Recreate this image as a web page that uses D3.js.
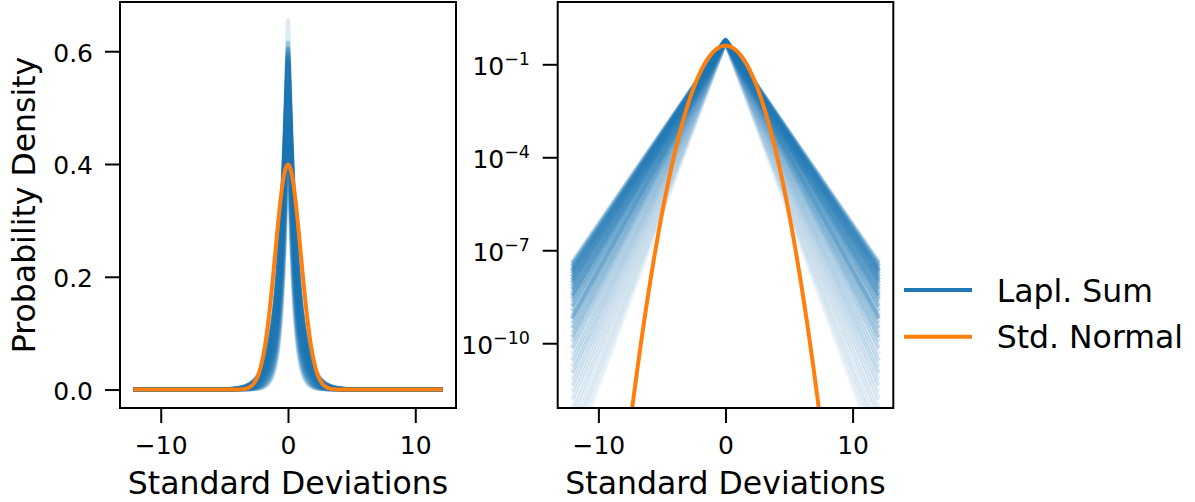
<!DOCTYPE html>
<html><head><meta charset="utf-8">
<script src="https://cdn.jsdelivr.net/npm/d3@7"></script>
<style>body{margin:0;background:#fff}svg{font-family:"DejaVu Sans",sans-serif}</style>
</head><body><svg id="c" width="1195" height="502"></svg>
<script>
// ---- data ----
const xTicks = [-10, 0, 10];
const linTicks = [0, 0.2, 0.4, 0.6];
const linTickLabels = ["0.0", "0.2", "0.4", "0.6"];
const logTickExps = [-1, -4, -7, -10];
const seriesNames = ["Lapl. Sum", "Std. Normal"];
const xRange = [-12, 12];
// one entry per blue curve: density at 0, log10 density at |x| = 12, line opacity
const peakDensity = [0.655,0.615,0.605,0.598,0.592,0.588,0.585,0.58,0.578,0.575,0.57,0.565,0.56,0.555,0.55,0.545,0.54,0.535,0.53,0.525,0.52,0.515,0.51,0.505,0.5,0.495,0.49,0.485,0.48,0.475,0.47,0.465,0.46,0.455,0.45,0.445,0.44,0.437,0.434,0.43];
const tailLog10 = [-7.9,-7.35,-7.45,-7.55,-7.62,-7.7,-7.8,-7.9,-8.0,-8.1,-8.2,-8.3,-8.4,-8.5,-8.6,-8.75,-8.9,-9.05,-9.15,-9.3,-9.45,-9.6,-9.75,-9.9,-10.1,-10.3,-10.5,-10.7,-10.9,-11.1,-11.3,-11.5,-11.75,-12.0,-12.25,-12.5,-12.8,-13.05,-13.3,-13.6];
const lineAlpha = [0.15,0.35,0.5,0.4,0.55,0.45,0.5,0.4,0.5,0.35,0.45,0.3,0.45,0.35,0.3,0.4,0.3,0.25,0.45,0.25,0.3,0.2,0.3,0.2,0.25,0.15,0.2,0.15,0.2,0.12,0.15,0.12,0.15,0.1,0.12,0.1,0.1,0.1,0.08,0.08];

// ---- build curves ----
const xs = d3.range(xRange[0], xRange[1] + 1e-9, 0.02);
const sRound = 0.05;
const hEdge = Math.sqrt(144 + sRound*sRound) - sRound;
const blueCurves = peakDensity.map((p, i) => {
  const r = (Math.log10(p) - tailLog10[i]) * Math.LN10 / hEdge;
  return xs.map(x => [x, p * Math.exp(-r * (Math.sqrt(x*x + sRound*sRound) - sRound))]);
});
const normalCurve = xs.map(x => [x, Math.exp(-x*x/2) / Math.sqrt(2*Math.PI)]);

const BLUE = "#1f77b4", ORANGE = "#ff7f0e";
const svg = d3.select("#c");
const yTop = 2, yBot = 408;
const panels = [
  {x0: 120, x1: 456, type: "lin"},
  {x0: 557.7, x1: 893.3, type: "log"}
];
const TICK = 15, FS = 25, LFS = 31.5;

panels.forEach((pn, k) => {
  const x = d3.scaleLinear().domain([-13.2, 13.2]).range([pn.x0, pn.x1]);
  const y = pn.type === "lin"
    ? d3.scaleLinear().domain([-0.0327, 0.6873]).range([yBot, yTop])
    : d3.scaleLog().domain([Math.pow(10, -12.09), Math.pow(10, 1.01)]).range([yBot, yTop]);
  const g = svg.append("g");
  const cid = "clip" + k;
  g.append("clipPath").attr("id", cid).append("rect")
    .attr("x", pn.x0).attr("y", yTop).attr("width", pn.x1 - pn.x0).attr("height", yBot - yTop);
  const line = d3.line().x(d => x(d[0])).y(d => y(d[1]));
  const plot = g.append("g").attr("clip-path", `url(#${cid})`);
  blueCurves.forEach((c, i) => {
    plot.append("path").attr("d", line(c)).attr("fill", "none")
      .attr("stroke", BLUE).attr("stroke-opacity", lineAlpha[i]).attr("stroke-width", 4)
      .attr("stroke-linejoin", "round").attr("stroke-linecap", "square");
  });
  plot.append("path").attr("d", line(normalCurve)).attr("fill", "none")
    .attr("stroke", ORANGE).attr("stroke-width", 4)
    .attr("stroke-linejoin", "round").attr("stroke-linecap", "square");

  g.append("rect").attr("x", pn.x0).attr("y", yTop).attr("width", pn.x1 - pn.x0).attr("height", yBot - yTop)
    .attr("fill", "none").attr("stroke", "#000").attr("stroke-width", 2);

  const xa = g.append("g").attr("transform", `translate(0,${yBot})`)
    .call(d3.axisBottom(x).tickValues(xTicks).tickSizeInner(TICK).tickSizeOuter(0).tickPadding(12)
      .tickFormat(d => d < 0 ? "\u2212" + Math.abs(d) : String(d)));
  xa.select(".domain").remove();
  xa.selectAll(".tick line").attr("stroke", "#000").attr("stroke-width", 2);
  xa.selectAll(".tick text").attr("font-size", FS).attr("font-family", "DejaVu Sans").attr("fill", "#000")
    .attr("dy", null).attr("y", 45.5);

  if (pn.type === "lin") {
    const ya = g.append("g").attr("transform", `translate(${pn.x0},0)`)
      .call(d3.axisLeft(y).tickValues(linTicks).tickSizeInner(TICK).tickSizeOuter(0).tickPadding(12)
        .tickFormat((d, i) => linTickLabels[i]));
    ya.select(".domain").remove();
    ya.selectAll(".tick line").attr("stroke", "#000").attr("stroke-width", 2);
    ya.selectAll(".tick text").attr("font-size", FS).attr("font-family", "DejaVu Sans").attr("fill", "#000")
      .attr("dy", null).attr("y", 9.8);
  } else {
    const tv = logTickExps.map(e => Math.pow(10, e));
    const ya = g.append("g").attr("transform", `translate(${pn.x0},0)`)
      .call(d3.axisLeft(y).tickValues(tv).tickSizeInner(TICK).tickSizeOuter(0).tickPadding(12).tickFormat(""));
    ya.select(".domain").remove();
    ya.selectAll(".tick line").attr("stroke", "#000").attr("stroke-width", 2);
    ya.selectAll(".tick text").remove();
    logTickExps.forEach(e => {
      const t = g.append("text").attr("x", 530).attr("y", y(Math.pow(10, e)) + 10.5)
        .attr("text-anchor", "end").attr("font-size", FS).attr("fill", "#000");
      t.append("tspan").text("10");
      t.append("tspan").attr("dy", -9.5).attr("font-size", 17.5).text("\u2212" + Math.abs(e));
    });
  }

  g.append("text").attr("x", (pn.x0 + pn.x1) / 2).attr("y", 493.5).attr("text-anchor", "middle")
    .attr("font-size", LFS).attr("fill", "#000").text("Standard Deviations");
});

svg.append("text").attr("transform", "translate(35,205) rotate(-90)").attr("text-anchor", "middle")
  .attr("font-size", LFS).attr("fill", "#000").text("Probability Density");

const leg = svg.append("g");
[BLUE, ORANGE].forEach((c, i) => {
  const yy = 290 + i * 46.7;
  leg.append("line").attr("x1", 904).attr("x2", 972).attr("y1", yy).attr("y2", yy)
    .attr("stroke", c).attr("stroke-width", 4);
  leg.append("text").attr("x", 996.7).attr("y", yy + 11.5).attr("font-size", LFS).attr("fill", "#000")
    .text(seriesNames[i]);
});
</script></body></html>
